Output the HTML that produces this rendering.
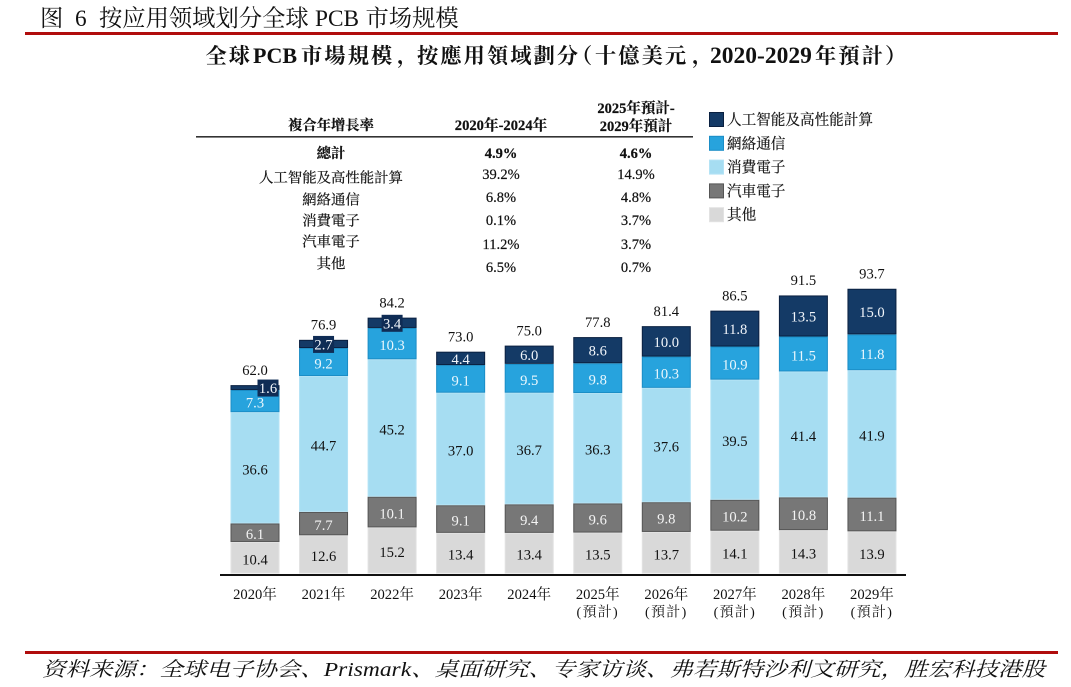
<!DOCTYPE html>
<html lang="zh">
<head>
<meta charset="utf-8">
<title>全球PCB市場規模</title>
<style>
html,body{margin:0;padding:0;background:#fff;}
svg{display:block;}
text{font-family:"Liberation Serif","Noto Serif CJK SC",serif;fill:#111;}
</style>
</head>
<body>
<svg id="chart" xmlns="http://www.w3.org/2000/svg" width="1071" height="687" viewBox="0 0 1071 687">
  <rect x="0" y="0" width="1071" height="687" fill="#fff"/>
  <text y="26" font-size="23.3"><tspan x="40">图</tspan><tspan x="75">6</tspan><tspan x="99">按应用领域划分全球</tspan><tspan x="315">PCB</tspan><tspan x="365.5">市场规模</tspan></text>
  <rect x="25" y="32" width="1033" height="3" fill="#b00c0c"/>
  <text y="63" font-size="21.3" font-weight="700" letter-spacing="2"><tspan x="205.5">全球</tspan><tspan x="253" font-size="22" letter-spacing="0">PCB</tspan><tspan x="301">市場規模</tspan><tspan x="397">，</tspan><tspan x="417">按應用領域劃分</tspan><tspan x="571">（</tspan><tspan x="595">十億美元</tspan><tspan x="692">，</tspan><tspan x="710" font-size="23.5" letter-spacing="0">2020-2029</tspan><tspan x="815">年預計</tspan><tspan x="885">）</tspan></text>

  <g id="cagr-table" stroke="#111" stroke-width="0.2">
    <text x="331" y="130" font-size="14.3" font-weight="700" text-anchor="middle">複合年增長率</text>
    <text x="501" y="130" font-size="14.6" font-weight="700" text-anchor="middle">2020年-2024年</text>
    <text x="636" y="113" font-size="14.5" font-weight="700" text-anchor="middle">2025年預計-</text>
    <text x="636" y="131" font-size="14.5" font-weight="700" text-anchor="middle">2029年預計</text>
    <rect x="196" y="136" width="497" height="1.6" fill="#333" stroke="none"/>
  </g>
  <g id="legend"></g>
  <g id="bars"></g>
  <g id="x-axis"></g>

  <rect x="25" y="651" width="1033" height="3" fill="#b00c0c"/>
  <text x="42" y="676" font-size="20" font-style="italic" textLength="1003" lengthAdjust="spacingAndGlyphs">资料来源：全球电子协会、Prismark、桌面研究、专家访谈、弗若斯特沙利文研究，胜宏科技港股</text>
</svg>
<script>
const years = ['2020年','2021年','2022年','2023年','2024年','2025年','2026年','2027年','2028年','2029年'];
const forecastFlags = [false,false,false,false,false,true,true,true,true,true];
const totals = [62.0,76.9,84.2,73.0,75.0,77.8,81.4,86.5,91.5,93.7];
const otherValues = [10.4,12.6,15.2,13.4,13.4,13.5,13.7,14.1,14.3,13.9];
const autoValues = [6.1,7.7,10.1,9.1,9.4,9.6,9.8,10.2,10.8,11.1];
const consumerValues = [36.6,44.7,45.2,37.0,36.7,36.3,37.6,39.5,41.4,41.9];
const networkValues = [7.3,9.2,10.3,9.1,9.5,9.8,10.3,10.9,11.5,11.8];
const aiValues = [1.6,2.7,3.4,4.4,6.0,8.6,10.0,11.8,13.5,15.0];
const seriesNames = ['其他','汽車電子','消費電子','網絡通信','人工智能及高性能計算'];
const tableRows = ['總計','人工智能及高性能計算','網絡通信','消費電子','汽車電子','其他'];
const cagr2020to2024 = ['4.9%','39.2%','6.8%','0.1%','11.2%','6.5%'];
const cagr2025to2029 = ['4.6%','14.9%','4.8%','3.7%','3.7%','0.7%'];

const NS = 'http://www.w3.org/2000/svg';
const seriesValues = [otherValues, autoValues, consumerValues, networkValues, aiValues];
const seriesSlugs = ['other','auto','consumer','network','ai'];
const fills = ['#d9d9d9','#777777','#a6ddf2','#27a3dd','#143a66'];
const strokes = ['#e2e2e2','#555555','#b4e3f5','#1b8dc6','#0a2040'];
const labelColors = ['#111','#f4f4f4','#111','#eaf7fd','#f2f6fb'];

const baseY = 573.6;
const unitPx = 3.04;
const firstCenter = 255;
const stepPx = 68.55;
const barWidth = 49;
const xAt = i => firstCenter + stepPx * i;
const yAt = v => baseY - v * unitPx;

function make(tag, parent, props, content) {
  const el = document.createElementNS(NS, tag);
  for (const k in props) el.setAttribute(k, props[k]);
  if (content !== undefined) el.textContent = content;
  parent.appendChild(el);
  return el;
}

/* table rows */
const tableGroup = document.getElementById('cagr-table');
const labelRowY = [158,182.5,204.5,225.5,246.5,268.5];
const valueRowY = [158,179,202,225,249,272];
tableRows.forEach((row, r) => {
  const weight = r === 0 ? 700 : 400;
  const a = make('text', tableGroup, {x:331, y:labelRowY[r], 'font-size':14.4, 'font-weight':weight, 'text-anchor':'middle'}, row);
  
  
  const b = make('text', tableGroup, {x:501, y:valueRowY[r], 'font-size':14.5, 'font-weight':weight, 'text-anchor':'middle'}, cagr2020to2024[r]);
  
  
  const c = make('text', tableGroup, {x:636, y:valueRowY[r], 'font-size':14.5, 'font-weight':weight, 'text-anchor':'middle'}, cagr2025to2029[r]);
  
  
});

/* legend (top to bottom: reverse stacking order) */
const legendGroup = document.getElementById('legend');
for (let n = 0; n < seriesNames.length; n++) {
  const s = seriesNames.length - 1 - n;
  const cy = 119.5 + n * 23.8;
  const sw = make('rect', legendGroup, {x:709.5, y:cy - 7, width:14, height:14, fill:fills[s], stroke:strokes[s], 'stroke-width':1});
  
  
  const lb = make('text', legendGroup, {x:727, y:cy + 5, 'font-size':14.6, stroke:'#222', 'stroke-width':0.2}, seriesNames[s]);
  
  
}

/* bars */
const barsGroup = document.getElementById('bars');
years.forEach((year, i) => {
  const cx = xAt(i);
  let cum = 0;
  seriesValues.forEach((vals, s) => {
    const v = vals[i];
    const y0 = yAt(cum);
    const y1 = yAt(cum + v);
    const seg = make('rect', barsGroup, {
      x: cx - barWidth / 2 + 0.5, y: y1 + 0.5,
      width: barWidth - 1, height: Math.max(y0 - y1 - 1, 0.5),
      fill: fills[s], stroke: strokes[s], 'stroke-width': 1
    });
    
    

    const isThin = s === 4 && v < 4;
    const lx = cx + (s === 4 && v < 2 ? 13 : 0);
    const ly = (y0 + y1) / 2 + (s === 4 ? 0.5 : 1.5);
    if (isThin) {
      const halo = make('rect', barsGroup, {x: lx - 10.5, y: ly - 8.5, width: 21, height: 17, fill: '#0f2c55'});
      
      
    }
    const t = make('text', barsGroup, {x: lx, y: ly + 5, 'font-size': 14.6, 'text-anchor': 'middle'}, v.toFixed(1));
    t.style.fill = labelColors[s];
    
    
    cum += v;
  });
  const total = make('text', barsGroup, {x: cx, y: yAt(totals[i]) - 10.3, 'font-size': 14.6, 'text-anchor': 'middle'}, totals[i].toFixed(1));
  
  
});

/* axis */
const axisGroup = document.getElementById('x-axis');
const axisLine = make('rect', axisGroup, {x:220, y:574, width:686, height:2, fill:'#111'});


years.forEach((year, i) => {
  const t = make('text', axisGroup, {x: xAt(i), y: 599, 'font-size': 14.6, 'text-anchor': 'middle', fill: '#222'}, year);
  
  
  if (forecastFlags[i]) {
    const f = make('text', axisGroup, {x: xAt(i), y: 616.5, 'font-size': 14, 'text-anchor': 'middle', fill: '#222', 'letter-spacing': 1.3}, '(預計)');
    
    
  }
});
</script>
</body>
</html>
